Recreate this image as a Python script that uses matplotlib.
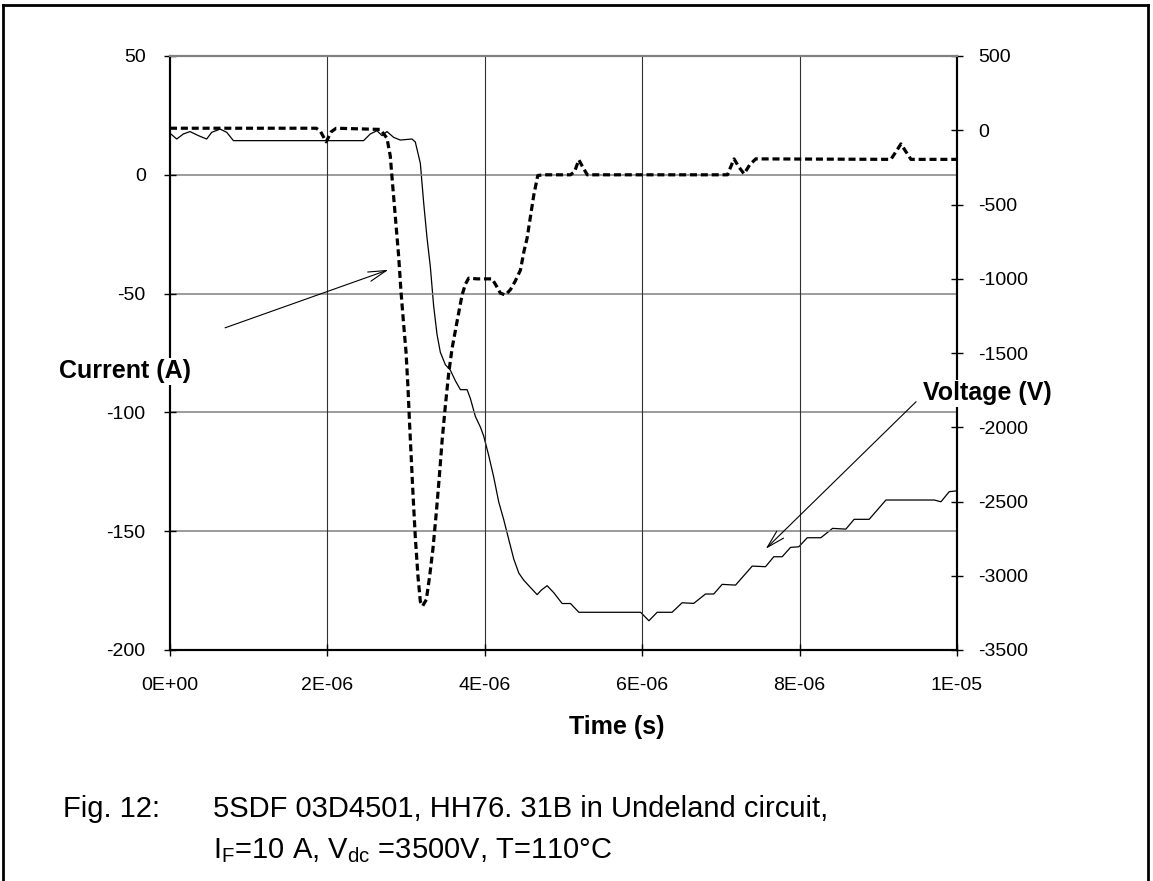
import numpy as np
import matplotlib
matplotlib.use("Agg")
import matplotlib.pyplot as plt
from matplotlib.lines import Line2D

plt.rcParams['font.family'] = ['Liberation Sans', 'DejaVu Sans']
plt.rcParams['mathtext.fontset'] = 'custom'
plt.rcParams['mathtext.rm'] = 'Liberation Sans'

# ---- data (time in microseconds, converted to seconds below) ----
current_t_us = [0.0, 1.857, 1.908, 1.985, 2.048, 2.112, 2.672, 2.757, 2.799, 2.821,
                2.863, 2.905, 2.935, 2.968, 2.999, 3.024, 3.044, 3.066, 3.088, 3.117,
                3.151, 3.181, 3.210, 3.257, 3.299, 3.342, 3.384, 3.422, 3.457, 3.499,
                3.541, 3.584, 3.626, 3.668, 3.711, 3.753, 3.795, 3.902, 4.093, 4.135,
                4.198, 4.262, 4.326, 4.389, 4.453, 4.495, 4.538, 4.580, 4.622, 4.673,
                4.749, 5.089, 5.14, 5.195, 5.242, 5.302, 7.083, 7.167, 7.226, 7.294,
                7.366, 7.443, 9.160, 9.224, 9.288, 9.351, 9.415, 10.0]
current_A = [19.6, 19.6, 18.5, 13.9, 18.1, 19.6, 19.1, 15.4, 7.9, -1.1,
             -17.6, -34.1, -49.1, -62.6, -74.6, -89.6, -104.6, -119.6, -134.6, -152.5,
             -169.0, -179.6, -181.5, -178.8, -169.0, -157.1, -142.1, -127.1, -112.1, -97.1,
             -83.6, -73.1, -65.6, -58.1, -50.6, -46.1, -43.5, -43.8, -43.8, -46.1,
             -49.8, -50.6, -48.3, -44.6, -40.1, -32.6, -26.6, -17.6, -8.6, -0.3,
             0.0, 0.0, 1.3, 6.3, 3.4, 0.0, 0.0, 6.7, 3.4, 0.4,
             4.2, 6.7, 6.5, 9.7, 13.0, 9.7, 6.5, 6.5]

voltage_t_us = [0.0, 0.085, 0.170, 0.254, 0.360, 0.466, 0.530, 0.636, 0.721, 0.806,
                2.460, 2.545, 2.630, 2.693, 2.757, 2.842, 2.926, 3.075, 3.117, 3.181,
                3.223, 3.266, 3.308, 3.350, 3.393, 3.435, 3.499, 3.562, 3.626, 3.690,
                3.775, 3.817, 3.880, 3.944, 3.986, 4.050, 4.113, 4.177, 4.241, 4.304,
                4.368, 4.432, 4.495, 4.580, 4.665, 4.720, 4.792, 4.876, 4.983, 5.089,
                5.195, 5.980, 6.085, 6.190, 6.380, 6.507, 6.655, 6.804, 6.909, 7.016,
                7.186, 7.398, 7.567, 7.672, 7.779, 7.885, 7.990, 8.097, 8.270, 8.419,
                8.588, 8.693, 8.884, 9.097, 9.712, 9.796, 9.901, 10.0]
voltage_V = [-20, -59, -25, -9, -36, -59, -14, 8, -14, -70,
             -70, -25, -3, -36, -9, -48, -66, -59, -79, -223,
             -487, -726, -919, -1183, -1375, -1495, -1579, -1615, -1687, -1747,
             -1747, -1807, -1927, -1999, -2059, -2191, -2335, -2503, -2623, -2755,
             -2887, -2982, -3030, -3079, -3127, -3096, -3067, -3114, -3187, -3187,
             -3246, -3246, -3303, -3246, -3246, -3182, -3186, -3123, -3123, -3058,
             -3063, -2935, -2939, -2872, -2872, -2809, -2805, -2744, -2744, -2681,
             -2686, -2620, -2620, -2490, -2490, -2502, -2434, -2428]

xticks = [0, 2e-6, 4e-6, 6e-6, 8e-6, 1e-5]
xtick_labels = ['0E+00', '2E-06', '4E-06', '6E-06', '8E-06', '1E-05']
left_ticks = [-200, -150, -100, -50, 0, 50]
right_ticks = [-3500, -3000, -2500, -2000, -1500, -1000, -500, 0, 500]

ct = np.array(current_t_us) * 1e-6
vt = np.array(voltage_t_us) * 1e-6

W, H = 1153, 881
fig = plt.figure(figsize=(W / 100, H / 100), dpi=100)
ax = fig.add_axes([170 / W, 1 - 650 / H, (957 - 170) / W, (650 - 56) / H])
ax2 = ax.twinx()

# grid
for y in [-150, -100, -50, 0]:
    ax.axhline(y, color='#808080', lw=1.1, zorder=0)
for x in xticks[1:-1]:
    ax.axvline(x, color='#303030', lw=0.8, zorder=0)

ax.plot(ct, current_A, color='black', lw=2.3, linestyle=(0, (2.2, 1.2)),
        dash_capstyle='butt', zorder=3)
ax2.plot(vt, voltage_V, color='black', lw=0.9, zorder=3)

ax.set_xlim(0, 1e-5)
ax.set_ylim(-200, 50)
ax2.set_ylim(-3500, 500)
ax.set_xticks(xticks)
ax.set_xticklabels(xtick_labels)
ax.set_yticks(left_ticks)
ax.set_yticklabels([str(v) for v in left_ticks])
ax2.set_yticks(right_ticks)
ax2.set_yticklabels([str(v) for v in right_ticks])

ax.tick_params(axis='x', direction='inout', length=9, width=1, labelsize=14, pad=15)
ax.tick_params(axis='y', direction='inout', length=9, width=1, labelsize=14, pad=13)
ax2.tick_params(axis='y', direction='inout', length=9, width=1, labelsize=14, pad=11)
for lab in ax2.get_yticklabels():
    lab.set_horizontalalignment('left')

for a in (ax, ax2):
    a.spines['top'].set_color('#808080')
    a.spines['top'].set_linewidth(1.5)
    for s in ('left', 'right', 'bottom'):
        a.spines[s].set_linewidth(1.5)
        a.spines[s].set_color('black')
ax.set_zorder(ax2.get_zorder() + 1)
ax.patch.set_visible(False)

# labels
fig.text(617 / W, 1 - 727 / H, 'Time (s)', ha='center', va='center',
         fontsize=18, fontweight='bold')
fig.text(125 / W, 1 - 371 / H, 'Current (A)', ha='center', va='center',
         fontsize=18, fontweight='bold', zorder=10,
         bbox=dict(facecolor='white', edgecolor='none', pad=1))
fig.text(987 / W, 1 - 393 / H, 'Voltage (V)', ha='center', va='center',
         fontsize=18, fontweight='bold', zorder=10,
         bbox=dict(facecolor='white', edgecolor='none', pad=1))

# arrows
ax.annotate('', xy=(2.774e-6, -40.0), xytext=(0.70e-6, -64.4),
            arrowprops=dict(arrowstyle='->,head_length=1.3,head_width=0.35',
                            lw=0.8, color='black', shrinkA=0, shrinkB=0))
ax.annotate('', xy=(7.57e-6, -157.4), xytext=(9.48e-6, -95.5),
            arrowprops=dict(arrowstyle='->,head_length=1.3,head_width=0.35',
                            lw=0.8, color='black', shrinkA=0, shrinkB=0),
            annotation_clip=False)

# caption
fig.text(63 / W, 1 - 809 / H, 'Fig. 12:', ha='left', va='center', fontsize=21)
fig.text(213 / W, 1 - 809 / H, '5SDF 03D4501, HH76. 31B in Undeland circuit,',
         ha='left', va='center', fontsize=21)
fig.text(213 / W, 1 - 851 / H,
         r'I$_\mathrm{F}$=10 A, V$_\mathrm{dc}$ =3500V, T=110°C',
         ha='left', va='center', fontsize=21)

# figure frame (top, left, right)
for xs, ys in [([3 / W, 1148 / W], [1 - 5 / H, 1 - 5 / H]),
               ([3 / W, 3 / W], [1 - 5 / H, 0]),
               ([1148 / W, 1148 / W], [1 - 5 / H, 0])]:
    fig.add_artist(Line2D(xs, ys, color='black', lw=2, transform=fig.transFigure))

fig.savefig('out.png', dpi=100)
